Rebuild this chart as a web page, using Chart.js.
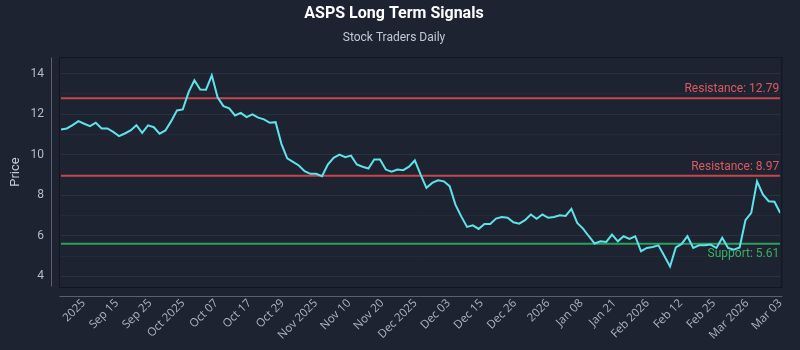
<!DOCTYPE html>
<html>
<head>
<meta charset="utf-8">
<title>ASPS Long Term Signals</title>
<script src="https://cdn.jsdelivr.net/npm/chart.js@4.4.1/dist/chart.umd.min.js"></script>
<style>
  html, body { margin: 0; padding: 0; background: #1e2331; }
  canvas { display: block; }
</style>
</head>
<body>
<canvas id="chart" width="800" height="350"></canvas>
<script>
// x axis tick labels, spread evenly from tick index firstTick to the last point
var tickLabels = ['2025', 'Sep 15', 'Sep 25', 'Oct 2025', 'Oct 07', 'Oct 17', 'Oct 29',
    'Nov 2025', 'Nov 10', 'Nov 20', 'Dec 2025', 'Dec 03', 'Dec 15', 'Dec 26', '2026',
    'Jan 08', 'Jan 21', 'Feb 2026', 'Feb 12', 'Feb 25', 'Mar 2026', 'Mar 03'];

// daily closing prices
var prices = [
    11.25, 11.30, 11.46, 11.66, 11.53, 11.41, 11.58, 11.30, 11.30, 11.13,
    10.92, 11.05, 11.20, 11.46, 11.08, 11.45, 11.36, 11.04, 11.20, 11.66,
    12.19, 12.24, 13.09, 13.68, 13.22, 13.21, 13.92, 12.84, 12.40, 12.29,
    11.94, 12.07, 11.86, 11.99, 11.83, 11.75, 11.58, 11.61, 10.54, 9.82,
    9.65, 9.47, 9.19, 9.06, 9.06, 8.94, 9.52, 9.85, 10.01, 9.88,
    9.96, 9.52, 9.41, 9.32, 9.77, 9.77, 9.27, 9.16, 9.27, 9.24,
    9.41, 9.72, 9.02, 8.37, 8.61, 8.74, 8.69, 8.45, 7.54, 6.96,
    6.44, 6.52, 6.34, 6.59, 6.59, 6.85, 6.93, 6.89, 6.67, 6.60,
    6.77, 7.05, 6.84, 7.05, 6.89, 6.93, 7.01, 6.98, 7.33, 6.64,
    6.36, 5.98, 5.62, 5.73, 5.70, 6.06, 5.73, 5.98, 5.85, 5.98,
    5.24, 5.40, 5.45, 5.53, 5.02, 4.49, 5.43, 5.60, 5.98, 5.40,
    5.53, 5.53, 5.57, 5.40, 5.90, 5.40, 5.32, 5.43, 6.77, 7.13,
    8.69, 8.04, 7.71, 7.68, 7.13
];

// support / resistance levels
var levelNames = ['Resistance', 'Resistance', 'Support'];
var levelValues = [12.79, 8.97, 5.61];

// y axis grid values (labels on the even ones)
var yGrid = [4, 5, 6, 7, 8, 9, 10, 11, 12, 13, 14];

var lastIdx = prices.length - 1;
var firstTick = 3.9;
var tickStep = (lastIdx - firstTick) / (tickLabels.length - 1);

var BG = '#1e2331';
var RED = '#c4474f';
var GREEN = '#2f9e5f';

Chart.defaults.font.family = "'Open Sans', sans-serif";

var datasets = [{
    label: 'ASPS',
    data: prices.map(function (p, i) { return {x: i, y: p}; }),
    borderColor: '#5fe3ea',
    borderWidth: 2,
    pointRadius: 0,
    tension: 0,
    order: 0
}];
levelValues.forEach(function (v, i) {
    datasets.push({
        label: levelNames[i],
        data: [{x: 0, y: v}, {x: lastIdx, y: v}],
        borderColor: levelNames[i] == 'Support' ? GREEN : RED,
        borderWidth: 2,
        pointRadius: 0,
        order: 1
    });
});

// background, plot frame, offset spines and level labels
var decor = {
    id: 'decor',
    beforeDraw: function (chart) {
        var ctx = chart.ctx, a = chart.chartArea;
        ctx.save();
        ctx.fillStyle = BG;
        ctx.fillRect(0, 0, chart.width, chart.height);
        ctx.strokeStyle = '#121620';
        ctx.lineWidth = 1;
        ctx.strokeRect(Math.round(a.left) - 1.5, Math.round(a.top) - 0.5,
            a.right - a.left + 3, a.bottom - a.top + 1);
        ctx.restore();
    },
    afterDraw: function (chart) {
        var ctx = chart.ctx, a = chart.chartArea;
        var y = chart.scales.y;
        ctx.save();
        ctx.strokeStyle = '#596072';
        ctx.lineWidth = 1;
        ctx.beginPath();
        ctx.moveTo(51.5, a.top);
        ctx.lineTo(51.5, a.bottom);
        ctx.moveTo(a.left - 1.5, 296.5);
        ctx.lineTo(a.right + 2, 296.5);
        ctx.stroke();

        ctx.font = "12px Roboto";
        ctx.textAlign = 'right';
        levelValues.forEach(function (v, i) {
            var py = y.getPixelForValue(v);
            var txt = levelNames[i] + ': ' + v.toFixed(2);
            if (levelNames[i] == 'Support') {
                ctx.fillStyle = '#3aae66';
                ctx.textBaseline = 'top';
                ctx.fillText(txt, a.right - 1, py + 4);
            } else {
                ctx.fillStyle = '#dc5a62';
                ctx.textBaseline = 'bottom';
                ctx.fillText(txt, a.right - 1, py - 3);
            }
        });
        ctx.restore();
    }
};

new Chart(document.getElementById('chart').getContext('2d'), {
    type: 'line',
    data: {datasets: datasets},
    plugins: [decor],
    options: {
        responsive: false,
        animation: false,
        layout: {padding: {top: 0, left: 0, right: 12, bottom: 0}},
        plugins: {
            legend: {display: false},
            tooltip: {enabled: false},
            title: {
                display: true,
                text: 'ASPS Long Term Signals',
                color: '#ffffff',
                font: {family: 'Roboto', size: 16, weight: 'bold'},
                padding: {top: 4.4, bottom: 0}
            },
            subtitle: {
                display: true,
                text: 'Stock Traders Daily',
                color: '#c3c9d3',
                font: {family: 'Roboto', size: 12},
                padding: {top: 7.2, bottom: 12.3}
            }
        },
        scales: {
            x: {
                type: 'linear',
                min: 0,
                max: lastIdx,
                grid: {display: false, drawTicks: false},
                border: {display: false},
                afterBuildTicks: function (scale) {
                    scale.ticks = tickLabels.map(function (l, i) {
                        return {value: firstTick + i * tickStep};
                    });
                },
                afterFit: function (scale) { scale.height = 63.5; },
                ticks: {
                    autoSkip: false,
                    minRotation: 45,
                    maxRotation: 45,
                    padding: 10,
                    color: '#aeb4c0',
                    font: {size: 11.5},
                    callback: function (v, i) { return tickLabels[i]; }
                }
            },
            y: {
                min: 3.5,
                max: 14.8,
                afterBuildTicks: function (scale) {
                    scale.ticks = yGrid.map(function (v) { return {value: v}; });
                },
                afterFit: function (scale) { scale.width = 61; },
                grid: {
                    drawTicks: false,
                    color: function (c) {
                        return c.tick && c.tick.value % 2 == 0 ? '#2a3142' : '#242a39';
                    }
                },
                border: {display: false},
                ticks: {
                    padding: 17,
                    color: '#b5bbc7',
                    font: {family: 'Roboto', size: 12},
                    callback: function (v) { return v % 2 == 0 ? v : ''; }
                },
                title: {
                    display: true,
                    text: 'Price',
                    color: '#c3c9d3',
                    font: {family: 'Roboto', size: 13},
                    padding: {top: 8, bottom: 0}
                }
            }
        }
    }
});
</script>
</body>
</html>
